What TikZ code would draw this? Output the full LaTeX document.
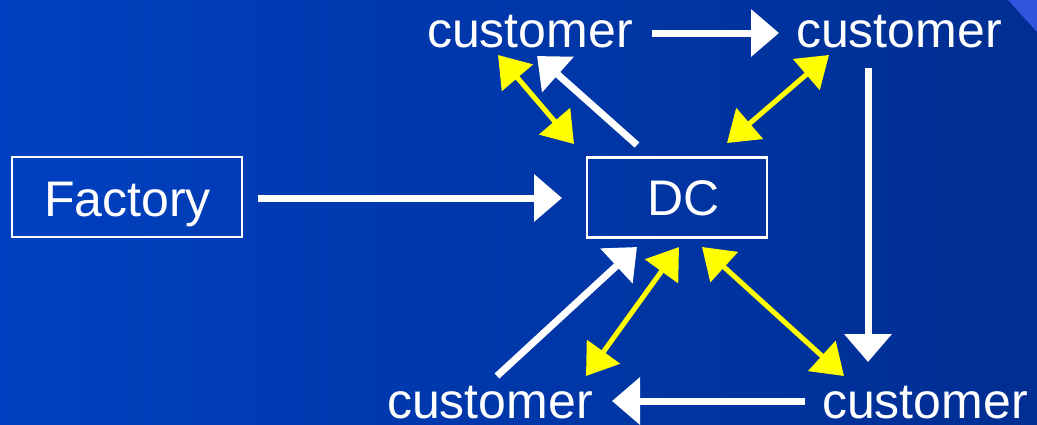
\documentclass[tikz,border=0pt]{standalone}
\usepackage{fontspec}
\setmainfont{Liberation Sans}
\usetikzlibrary{arrows.meta}
\definecolor{bgleft}{RGB}{0,64,192}
\definecolor{bgright}{RGB}{0,46,146}
\definecolor{corner}{RGB}{51,85,221}
\definecolor{yel}{RGB}{255,255,0}
\tikzset{
  lbl/.style={text=white, font=\fontsize{50}{60}\selectfont, inner sep=0pt, anchor=base},
  boxn/.style={draw=white, line width=2.2pt, minimum width=#1, minimum height=80pt, inner sep=0pt},
  flow/.style={white, line width=7pt, -{Triangle[length=28pt,width=46pt]}},
  link/.style={yel, line width=5pt, {Triangle[length=30pt,width=40pt]}-{Triangle[length=30pt,width=40pt]}},
}
\begin{document}
\begin{tikzpicture}[x=1pt,y=-1pt]
\useasboundingbox (0,0) rectangle (1037,424);
\shade[left color=bgleft, right color=bgright] (0,0) rectangle (1037,424);
\fill[corner] (1008,0) -- (1037,0) -- (1037,32) -- cycle;
% boxes
\node[boxn=230pt] (factory) at (127,197) {};
\node[lbl] (factorytxt) at (127.5,216) {Factory};
\node[boxn=180pt] (dc) at (677,197.5) {};
\node[lbl] (dctxt) at (684,215) {DC};
% customers
\node[lbl] (ctl) at (530,47) {customer};
\node[lbl] (ctr) at (899,47) {customer};
\node[lbl] (cbl) at (490,418) {customer};
\node[lbl] (cbr) at (925,418) {customer};
% endpoints
\coordinate (f1) at (258,198); \coordinate (d1) at (562,198);
\coordinate (t1) at (652,33);  \coordinate (t2) at (779,33);
\coordinate (r1) at (868,68);  \coordinate (r2) at (868,362);
\coordinate (b1) at (805,401); \coordinate (b2) at (612,401);
\coordinate (u1) at (497,376); \coordinate (u2) at (637,247);
\coordinate (w1) at (637,145); \coordinate (w2) at (537,56);
\coordinate (y1a) at (498,55); \coordinate (y1b) at (574,144);
\coordinate (y2a) at (829,55); \coordinate (y2b) at (727,143);
\coordinate (y3a) at (679,247); \coordinate (y3b) at (586,376);
\coordinate (y4a) at (702,247); \coordinate (y4b) at (844,376);
% white flows
\draw[flow] (f1) -- (d1);
\draw[flow] (t1) -- (t2);
\draw[flow] (r1) -- (r2);
\draw[flow] (b1) -- (b2);
\draw[flow] (u1) -- (u2);
\draw[flow] (w1) -- (w2);
% yellow links
\draw[link] (y1a) -- (y1b);
\draw[link] (y2a) -- (y2b);
\draw[link] (y3a) -- (y3b);
\draw[link] (y4a) -- (y4b);
\end{tikzpicture}
\end{document}
